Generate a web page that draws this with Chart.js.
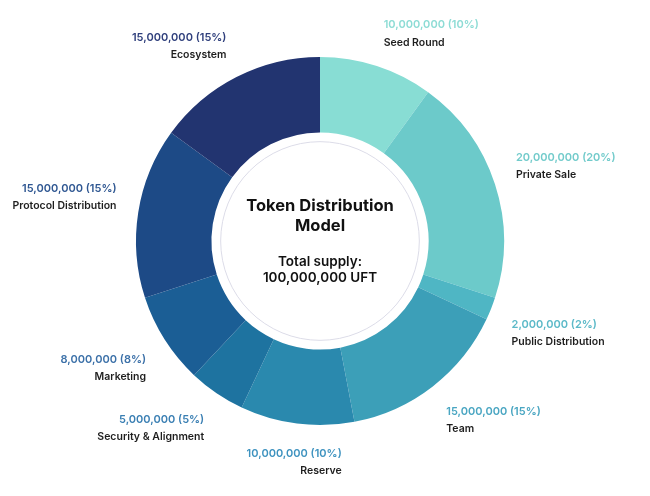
<!DOCTYPE html>
<html>
<head>
<meta charset="utf-8">
<script src="https://cdn.jsdelivr.net/npm/chart.js@4.4.1/dist/chart.umd.min.js"></script>
<style>
  html, body { margin: 0; padding: 0; background: #fff; }
  #wrap { width: 650px; height: 496px; position: relative; }
</style>
</head>
<body>
<div id="wrap"><canvas id="tokenChart"></canvas></div>
<script>
// Token distribution data
const categories = ['Seed Round', 'Private Sale', 'Public Distribution', 'Team', 'Reserve',
                    'Security & Alignment', 'Marketing', 'Protocol Distribution', 'Ecosystem'];
const tokenAmounts = [10000000, 20000000, 2000000, 15000000, 10000000, 5000000, 8000000, 15000000, 15000000];
const totalSupplyLabel = ['Total supply:', '100,000,000 UFT'];
const centerTitle = ['Token Distribution', 'Model'];

const sliceColors = ['#88ddd4', '#6ccaca', '#4fb6c4', '#3c9fb8', '#2a89ae',
                     '#1e73a0', '#1b5e95', '#1d4a86', '#223470'];
const valueColors = ['#8ddcd5', '#72cbcb', '#5bb9c8', '#4aa6c2', '#3d92bf',
                     '#3a7fb3', '#3b70a8', '#2f5792', '#2f3f7c'];

const FONT = 'Inter, "Noto Sans", sans-serif';

(function(){
    const total = tokenAmounts.reduce((a, b) => a + b, 0);

    // outside labels: value line + name line, anchored at slice mid angle
    const outerLabels = {
        id: 'outerLabels',
        afterDatasetsDraw(chart) {
            const ctx = chart.ctx;
            const meta = chart.getDatasetMeta(0);
            ctx.save();
            meta.data.forEach((arc, i) => {
                const mid = (arc.startAngle + arc.endAngle) / 2;
                const r = arc.outerRadius + 22;
                const px = arc.x + Math.cos(mid) * r;
                const py = arc.y + Math.sin(mid) * r;
                const pct = Math.round(tokenAmounts[i] / total * 100);
                const valueText = tokenAmounts[i].toLocaleString('en-US') + ' (' + pct + '%)';
                const nameText = categories[i];

                ctx.font = '600 11px ' + FONT;
                const w1 = ctx.measureText(valueText).width;
                ctx.font = '600 10.5px ' + FONT;
                const w2 = ctx.measureText(nameText).width;
                const bw = Math.max(w1, w2);

                const c = Math.cos(mid);
                const leftSide = c > 0.15;
                let x;
                if (leftSide) x = px;
                else if (c < -0.15) x = px;
                else x = px + bw / 2;
                const top = Math.sin(mid) < 0 ? py - 28 : py;

                ctx.textBaseline = 'middle';
                ctx.textAlign = leftSide ? 'left' : 'right';
                ctx.font = '600 11px ' + FONT;
                ctx.fillStyle = valueColors[i];
                ctx.fillText(valueText, x, top + 8);
                ctx.font = '600 10.5px ' + FONT;
                ctx.fillStyle = '#1e1e1e';
                ctx.fillText(nameText, x, top + 25.5);
            });
            ctx.restore();
        }
    };

    // center: thin ring and title text
    const centerText = {
        id: 'centerText',
        afterDatasetsDraw(chart) {
            const ctx = chart.ctx;
            const arc = chart.getDatasetMeta(0).data[0];
            const cx = arc.x, cy = arc.y;
            ctx.save();
            ctx.beginPath();
            ctx.arc(cx, cy, arc.innerRadius * 0.915, 0, Math.PI * 2);
            ctx.strokeStyle = '#dcdce8';
            ctx.lineWidth = 1;
            ctx.stroke();

            ctx.fillStyle = '#111';
            ctx.textAlign = 'center';
            ctx.textBaseline = 'middle';
            ctx.font = '700 16.5px ' + FONT;
            ctx.fillText(centerTitle[0], cx, cy - 35);
            ctx.fillText(centerTitle[1], cx, cy - 15);
            ctx.font = '600 13.5px ' + FONT;
            ctx.fillText(totalSupplyLabel[0], cx, cy + 21);
            ctx.fillText(totalSupplyLabel[1], cx, cy + 37);
            ctx.restore();
        }
    };

    const ctx = document.getElementById('tokenChart');
    new Chart(ctx, {
        type: 'doughnut',
        data: {
            labels: categories,
            datasets: [{
                data: tokenAmounts,
                backgroundColor: sliceColors,
                borderWidth: 0,
                hoverOffset: 0
            }]
        },
        options: {
            responsive: true,
            maintainAspectRatio: false,
            animation: false,
            cutout: '59%',
            layout: { padding: { left: 136, right: 146, top: 57, bottom: 71 } },
            plugins: {
                legend: { display: false },
                tooltip: { enabled: false }
            }
        },
        plugins: [outerLabels, centerText]
    });
})();
</script>
</body>
</html>
